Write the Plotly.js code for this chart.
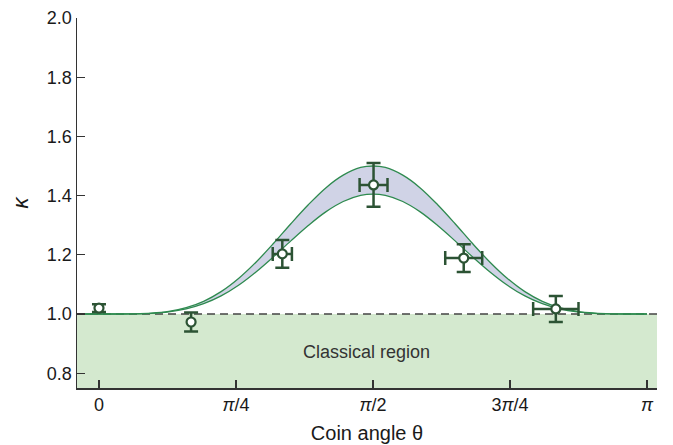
<!DOCTYPE html>
<html>
<head>
<meta charset="utf-8">
<script src="https://cdn.plot.ly/plotly-3.0.1.min.js"></script>
<style>
  html, body { margin: 0; padding: 0; background: #fff; }
  #chart { width: 673px; height: 445px; }
</style>
</head>
<body>
<div id="chart"></div>
<script>
// Theory band (coin angle in radians)
var theta = [-0.12, 0, 0.1, 0.2, 0.3, 0.4, 0.5, 0.6, 0.7, 0.8, 0.9, 1.0, 1.1, 1.2, 1.3, 1.4, 1.5, 1.5708,
             1.6416, 1.7416, 1.8416, 1.9416, 2.0416, 2.1416, 2.2416, 2.3416, 2.4416, 2.5416, 2.6416,
             2.7416, 2.8416, 2.9416, 3.0416, 3.1416];
var upperK = [1, 1, 1, 1.0005, 1.0027, 1.0087, 1.0212, 1.0428, 1.0755, 1.120, 1.175, 1.238, 1.305, 1.369,
              1.426, 1.469, 1.495, 1.5,
              1.495, 1.469, 1.426, 1.369, 1.305, 1.238, 1.175, 1.120, 1.0755, 1.0428, 1.0212,
              1.0087, 1.0027, 1.0005, 1, 1];
var lowerK = [1, 1, 1, 1.0004, 1.0021, 1.007, 1.0172, 1.0347, 1.061, 1.097, 1.142, 1.193, 1.247, 1.299,
              1.345, 1.380, 1.4005, 1.405,
              1.4005, 1.380, 1.345, 1.299, 1.247, 1.193, 1.142, 1.097, 1.061, 1.0347, 1.0172,
              1.007, 1.0021, 1.0004, 1, 1];

// Measured points
var ptTheta = [0, 0.528, 1.051, 1.574, 2.091, 2.619];
var ptK     = [1.020, 0.973, 1.203, 1.436, 1.189, 1.017];
var ptErrK  = [0.013, 0.032, 0.047, 0.074, 0.047, 0.044];
var ptErrTheta = [0, 0, 0.055, 0.08, 0.106, 0.13];

// Tick labels
var xTickVals = [0, Math.PI / 4, Math.PI / 2, 3 * Math.PI / 4, Math.PI];
var xTickText = ['0', '<i>π</i>/4', '<i>π</i>/2', '3<i>π</i>/4', '<i>π</i>'];
var yTickVals = [0.8, 1.0, 1.2, 1.4, 1.6, 1.8, 2.0];
var yTickText = ['0.8', '1.0', '1.2', '1.4', '1.6', '1.8', '2.0'];

var curveColor = '#2e8a4f';
var ptColor = '#2c5334';

var withX = [], withoutX = [];
for (var i = 0; i < ptTheta.length; i++) {
  if (ptErrTheta[i] > 0) withX.push(i); else withoutX.push(i);
}
function pick(arr, idx) { return idx.map(function (j) { return arr[j]; }); }

var traces = [
  { x: theta, y: lowerK, type: 'scatter', mode: 'lines',
    line: { color: curveColor, width: 1.3, shape: 'spline' }, hoverinfo: 'skip', showlegend: false },
  { x: theta, y: upperK, type: 'scatter', mode: 'lines', fill: 'tonexty', fillcolor: '#d0d3e6',
    line: { color: curveColor, width: 1.3, shape: 'spline' }, hoverinfo: 'skip', showlegend: false },
  { x: pick(ptTheta, withoutX), y: pick(ptK, withoutX), type: 'scatter', mode: 'markers',
    error_y: { type: 'data', array: pick(ptErrK, withoutX), color: ptColor, thickness: 2.5, width: 7 },
    marker: { size: 9, color: '#ffffff', line: { color: ptColor, width: 2.2 } }, showlegend: false },
  { x: pick(ptTheta, withX), y: pick(ptK, withX), type: 'scatter', mode: 'markers',
    error_y: { type: 'data', array: pick(ptErrK, withX), color: ptColor, thickness: 2.5, width: 7 },
    error_x: { type: 'data', array: pick(ptErrTheta, withX), color: ptColor, thickness: 2.5, width: 7 },
    marker: { size: 9, color: '#ffffff', line: { color: ptColor, width: 2.2 } }, showlegend: false }
];

var layout = {
  width: 673, height: 445,
  margin: { l: 77, r: 16, t: 18, b: 57 },
  paper_bgcolor: '#ffffff', plot_bgcolor: '#ffffff',
  font: { family: 'Liberation Sans, Arial, sans-serif', size: 18, color: '#1a1a1a' },
  showlegend: false,
  xaxis: {
    range: [-0.126, 3.199], showgrid: false, zeroline: false,
    showline: true, linecolor: '#333', linewidth: 1.5,
    ticks: 'inside', ticklen: 8, tickwidth: 1.3, tickcolor: '#333',
    tickvals: xTickVals, ticktext: xTickText,
    tickfont: { size: 18, color: '#1a1a1a' },
    title: { text: 'Coin angle θ', font: { size: 20, color: '#1a1a1a' }, standoff: 12 }
  },
  yaxis: {
    range: [0.75, 2.0], showgrid: false, zeroline: false,
    showline: true, linecolor: '#333', linewidth: 1.5,
    ticks: 'inside', ticklen: 8, tickwidth: 1.3, tickcolor: '#333',
    tickvals: yTickVals, ticktext: yTickText,
    tickfont: { size: 18, color: '#1a1a1a' },
    title: { text: '<i>κ</i>', font: { size: 22, color: '#1a1a1a' }, standoff: 12 }
  },
  shapes: [
    { type: 'rect', xref: 'paper', yref: 'y', x0: 0, x1: 1, y0: 0.75, y1: 1.0,
      fillcolor: '#d4e9cf', line: { width: 0 }, layer: 'below' },
    { type: 'line', xref: 'paper', yref: 'y', x0: 0, x1: 1, y0: 1.0, y1: 1.0,
      line: { color: '#444', width: 1.3, dash: '8px,5px' }, layer: 'below' }
  ],
  annotations: [
    { x: 1.534, y: 0.872, xref: 'x', yref: 'y', text: 'Classical region', showarrow: false,
      font: { size: 18, color: '#333' } }
  ]
};

Plotly.newPlot('chart', traces, layout, { displayModeBar: false, staticPlot: true });
</script>
</body>
</html>
